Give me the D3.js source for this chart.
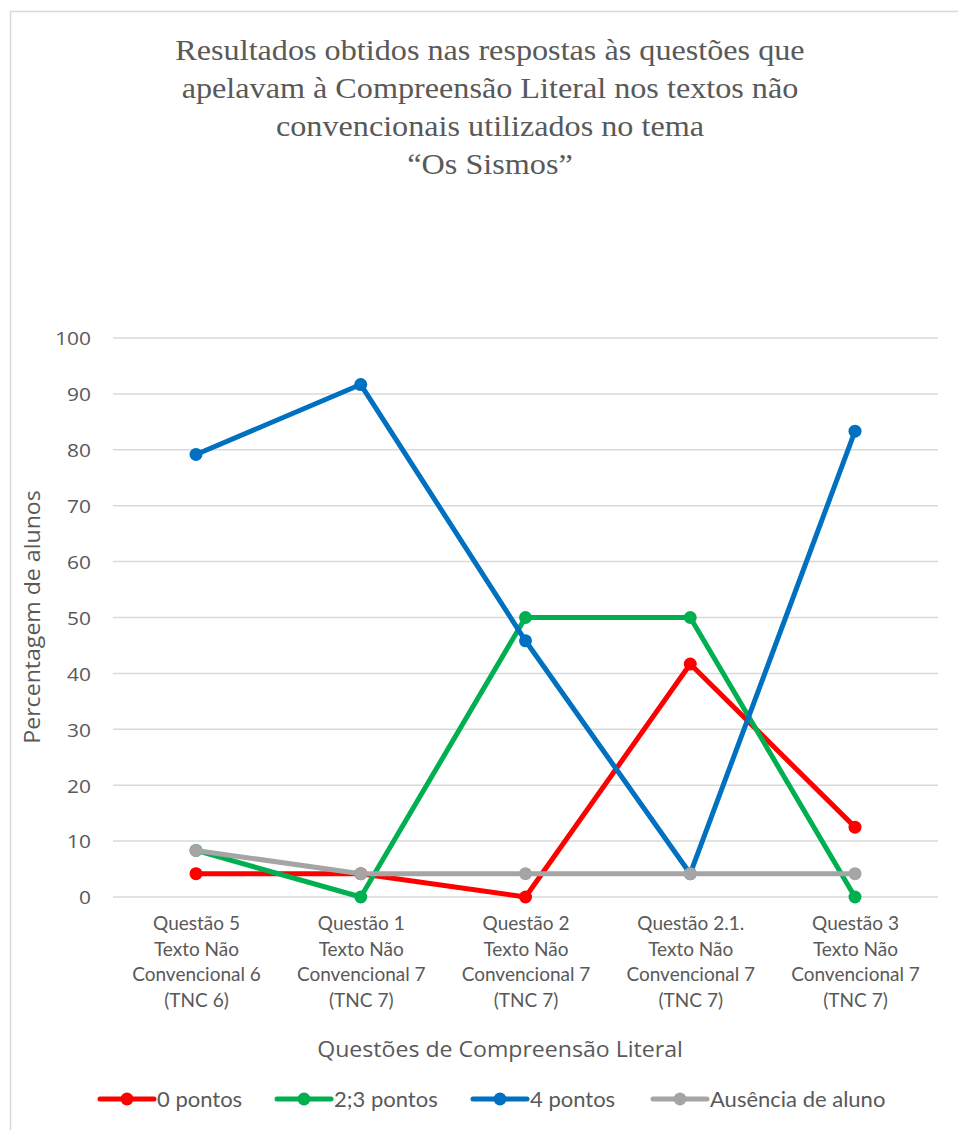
<!DOCTYPE html>
<html><head><meta charset="utf-8">
<script src="https://cdn.jsdelivr.net/npm/d3@7/dist/d3.min.js"></script>
<style>body{margin:0;background:#fff}svg{display:block}</style>
</head><body>
<svg id="c" width="958" height="1130"></svg>
<script>
const titleLines = ["Resultados obtidos nas respostas às questões que","apelavam à Compreensão Literal nos textos não","convencionais utilizados no tema","“Os Sismos”"];
const categories = ["Q5","Q1","Q2","Q2.1","Q3"];
const categoryLabels = [
  ["Questão 5","Texto Não","Convencional 6","(TNC 6)"],
  ["Questão 1","Texto Não","Convencional 7","(TNC 7)"],
  ["Questão 2","Texto Não","Convencional 7","(TNC 7)"],
  ["Questão 2.1.","Texto Não","Convencional 7","(TNC 7)"],
  ["Questão 3","Texto Não","Convencional 7","(TNC 7)"]
];
const seriesNames = ["0 pontos","2;3 pontos","4 pontos","Ausência de aluno"];
const pontos0 = [4.17, 4.17, 0, 41.67, 12.5];
const pontos23 = [8.33, 0, 50, 50, 0];
const pontos4 = [79.17, 91.67, 45.83, 4.17, 83.33];
const ausencia = [8.33, 4.17, 4.17, 4.17, 4.17];
const yTicks = [0,10,20,30,40,50,60,70,80,90,100];
const colors = ["#FF0000","#00B050","#0070C0","#A5A5A5"];
const seriesValues = [pontos0, pontos23, pontos4, ausencia];

const svg = d3.select("#c");
const txt = "#595959";
const calib = "Lato,'Liberation Sans',sans-serif";
const segoe = "'Open Sans','Noto Sans',sans-serif";

// chart border
svg.append("rect").attr("x",10.5).attr("y",11.5).attr("width",960).attr("height",1130)
  .attr("fill","none").attr("stroke","#D9D9D9").attr("stroke-width",1.5);

// title
svg.append("g").attr("transform","translate(490,0) scale(1.13,1)")
  .selectAll("text").data(titleLines).join("text")
  .attr("x",0).attr("y",(d,i)=>60+i*38).attr("text-anchor","middle")
  .attr("font-family","'Liberation Serif','Times New Roman',serif").attr("font-size",28.5)
  .attr("fill",txt).text(d=>d);

const x = d3.scalePoint().domain(categories).range([196,855]).padding(0);
const y = d3.scaleLinear().domain([0,100]).range([897,338]);

// grid
svg.append("g").selectAll("line").data(yTicks).join("line")
  .attr("x1",113).attr("x2",938).attr("y1",d=>y(d)).attr("y2",d=>y(d))
  .attr("stroke","#D9D9D9").attr("stroke-width",1.5);

// y axis ticks
const yAxis = d3.axisLeft(y).tickValues(yTicks).tickSize(0).tickPadding(0);
const yg = svg.append("g").attr("transform","translate(91,0)").call(yAxis);
yg.select(".domain").remove();
yg.selectAll(".tick text").attr("font-family",segoe).attr("font-size",19).attr("fill",txt)
  .attr("dy","0.36em").attr("transform","scale(1.1,1)");

// x axis labels
const xAxis = d3.axisBottom(x).tickSize(0).tickFormat(()=>"");
const xg = svg.append("g").attr("transform","translate(0,897)").call(xAxis);
xg.select(".domain").remove();
xg.selectAll(".tick").each(function(d,i){
  const t = d3.select(this).append("text").attr("text-anchor","middle")
    .attr("font-family",calib).attr("font-size",19).attr("fill",txt);
  categoryLabels[i].forEach((l,j)=>t.append("tspan").attr("x",0).attr("y",33+j*25.7).text(l));
});

// axis titles
svg.append("text").attr("transform","translate(40,617) rotate(-90) scale(1.1,1)").attr("text-anchor","middle")
  .attr("font-family",segoe).attr("font-size",21).attr("fill",txt).text("Percentagem de alunos");
svg.append("text").attr("transform","translate(500,1057) scale(1.1,1)").attr("text-anchor","middle")
  .attr("font-family",segoe).attr("font-size",21).attr("fill",txt).text("Questões de Compreensão Literal");

// series
const line = d3.line().x((d,i)=>x(categories[i])).y(d=>y(d));
seriesValues.forEach((vals,s)=>{
  const g = svg.append("g");
  g.append("path").attr("d",line(vals)).attr("fill","none").attr("stroke",colors[s])
    .attr("stroke-width",5).attr("stroke-linejoin","round").attr("stroke-linecap","round");
  g.selectAll("circle").data(vals).join("circle")
    .attr("cx",(d,i)=>x(categories[i])).attr("cy",d=>y(d)).attr("r",6.5).attr("fill",colors[s]);
});

// legend
const legendX = [100,277,473,653];
const lg = svg.append("g");
seriesNames.forEach((n,s)=>{
  const g = lg.append("g").attr("transform",`translate(${legendX[s]},1099)`);
  g.append("line").attr("x1",0).attr("x2",54).attr("stroke",colors[s]).attr("stroke-width",5).attr("stroke-linecap","round");
  g.append("circle").attr("cx",27).attr("r",6.5).attr("fill",colors[s]);
  g.append("text").attr("x",57).attr("y",7.5).attr("font-family",calib).attr("font-size",22).attr("fill",txt).text(n);
});
</script>
</body></html>
